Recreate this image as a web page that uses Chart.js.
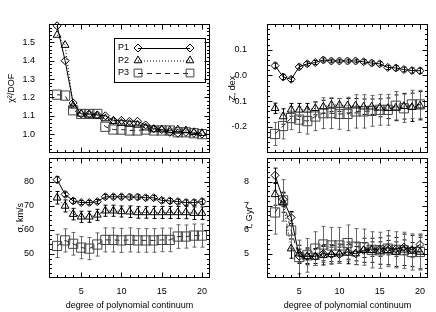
<!DOCTYPE html>
<html>
<head>
<meta charset="utf-8">
<script src="https://cdn.jsdelivr.net/npm/chart.js@4"></script>
<style>
body { margin: 0; background: #fff; width: 436px; height: 312px; position: relative; overflow: hidden; }
canvas { position: absolute; }
</style>
</head>
<body>
<canvas id="chiChart" style="left:0;top:0" width="218" height="160"></canvas>
<canvas id="zChart" style="left:218px;top:0" width="218" height="160"></canvas>
<canvas id="sigChart" style="left:0;top:150px" width="218" height="162"></canvas>
<canvas id="ageChart" style="left:218px;top:150px" width="218" height="162"></canvas>
<script>
// polynomial degree on x
const degrees = [2, 3, 4, 5, 6, 7, 8, 9, 10, 11, 12, 13, 14, 15, 16, 17, 18, 19, 20];
const xTicks = [5, 10, 15, 20];

// chi^2 / DOF
const chiP1 = [1.59, 1.40, 1.17, 1.11, 1.11, 1.105, 1.10, 1.075, 1.075, 1.07, 1.07, 1.05, 1.03, 1.025, 1.01, 1.005, 1.01, 1.005, 1.0];
const chiP2 = [1.54, 1.485, 1.155, 1.11, 1.105, 1.10, 1.085, 1.07, 1.06, 1.055, 1.05, 1.035, 1.025, 1.025, 1.02, 1.025, 1.02, 1.01, 1.005];
const chiP3 = [1.215, 1.21, 1.13, 1.11, 1.11, 1.11, 1.04, 1.025, 1.025, 1.02, 1.02, 1.025, 1.02, 1.02, 1.02, 1.01, 1.01, 1.005, 1.0];
const chiTicks = [1.0, 1.1, 1.2, 1.3, 1.4, 1.5];

// metallicity Z, dex
const zP1 = [0.038, -0.006, -0.015, 0.033, 0.045, 0.05, 0.06, 0.056, 0.056, 0.056, 0.056, 0.053, 0.048, 0.045, 0.031, 0.029, 0.023, 0.019, 0.018];
const zErrP1 = [0.010, 0.010, 0.009, 0.008, 0.008, 0.008, 0.008, 0.007, 0.007, 0.007, 0.007, 0.008, 0.008, 0.008, 0.008, 0.009, 0.009, 0.010, 0.010];
const zP2 = [-0.128, -0.16, -0.134, -0.134, -0.134, -0.128, -0.122, -0.115, -0.115, -0.118, -0.118, -0.122, -0.122, -0.126, -0.128, -0.126, -0.12, -0.124, -0.118];
const zErrP2 = [0.02, 0.03, 0.025, 0.025, 0.025, 0.025, 0.025, 0.025, 0.025, 0.028, 0.028, 0.03, 0.03, 0.035, 0.04, 0.05, 0.05, 0.055, 0.055];
const zP3 = [-0.228, -0.197, -0.166, -0.172, -0.178, -0.16, -0.147, -0.147, -0.15, -0.15, -0.14, -0.14, -0.138, -0.134, -0.134, -0.118, -0.128, -0.113, -0.113];
const zErrP3 = [0.045, 0.05, 0.045, 0.05, 0.05, 0.055, 0.06, 0.06, 0.06, 0.065, 0.065, 0.065, 0.06, 0.06, 0.06, 0.055, 0.055, 0.055, 0.055];
const zTicks = [-0.2, -0.1, 0.0, 0.1];

// velocity dispersion, km/s
const sigP1 = [80.8, 74.7, 72.0, 71.3, 71.3, 71.7, 73.7, 73.7, 73.7, 73.6, 73.6, 73.3, 73.3, 72.2, 72.0, 71.7, 71.3, 71.3, 71.7];
const sigErrP1 = [1.2, 1.0, 1.0, 0.9, 0.9, 0.9, 0.9, 0.9, 0.9, 0.9, 0.9, 0.9, 0.9, 1.0, 1.0, 1.0, 1.1, 1.1, 1.1];
const sigP2 = [73.3, 69.9, 66.5, 65.4, 65.4, 66.2, 67.9, 67.9, 67.6, 67.5, 67.2, 67.2, 67.2, 67.2, 67.2, 67.2, 67.2, 66.9, 66.9];
const sigErrP2 = [2.6, 2.5, 2.4, 2.3, 2.3, 2.3, 2.3, 2.3, 2.3, 2.4, 2.4, 2.4, 2.5, 2.5, 2.5, 2.5, 2.6, 2.6, 2.6];
const sigP3 = [53.3, 55.6, 54.2, 52.6, 52.2, 53.9, 55.8, 55.8, 55.6, 55.8, 55.6, 55.6, 55.6, 55.8, 55.8, 57.2, 57.2, 57.6, 57.6];
const sigErrP3 = [4.8, 4.8, 4.7, 4.6, 4.6, 4.8, 5.0, 5.0, 5.0, 5.0, 4.9, 4.9, 4.9, 4.9, 4.9, 4.9, 4.8, 4.8, 4.8];
const sigTicks = [50, 60, 70, 80];

// age t, Gyr
const ageP1 = [8.26, 7.26, 6.51, 4.90, 4.90, 4.90, 5.01, 4.98, 4.98, 5.08, 5.01, 5.15, 5.2, 5.2, 5.26, 5.2, 5.28, 5.17, 5.39];
const ageErrP1 = [0.3, 0.3, 0.25, 0.3, 0.3, 0.3, 0.3, 0.3, 0.3, 0.3, 0.3, 0.3, 0.3, 0.3, 0.3, 0.3, 0.3, 0.3, 0.3];
const ageP2 = [7.47, 7.13, 5.22, 5.01, 4.9, 4.87, 4.94, 4.98, 5.01, 5.04, 5.01, 5.15, 5.15, 5.12, 5.15, 5.08, 5.17, 5.12, 5.08];
const ageErrP2 = [0.45, 0.4, 0.4, 0.35, 0.35, 0.35, 0.4, 0.4, 0.4, 0.45, 0.45, 0.5, 0.5, 0.55, 0.6, 0.6, 0.65, 0.65, 0.7];
const ageP3 = [6.72, 7.22, 5.97, 4.87, 4.94, 5.22, 5.39, 5.35, 5.35, 5.45, 5.3, 5.28, 5.17, 5.15, 5.22, 5.17, 5.15, 5.08, 5.08];
const ageErrP3 = [0.9, 0.86, 0.75, 0.7, 0.7, 0.7, 0.75, 0.75, 0.75, 0.75, 0.75, 0.75, 0.75, 0.75, 0.75, 0.75, 0.75, 0.75, 0.75];
const ageTicks = [5, 6, 7, 8];

Chart.defaults.font.family = "'Liberation Sans', Arial, sans-serif";
Chart.defaults.font.size = 9;
Chart.defaults.color = "#000";

// vertical error bars, drawn under the markers
const errorBars = {
    id: "errorBars",
    beforeDatasetsDraw(chart) {
        const { ctx, scales: { x, y } } = chart;
        chart.data.datasets.forEach(ds => {
            if (!ds.errors) return;
            ctx.save();
            ctx.strokeStyle = ds.errorColor;
            ctx.lineWidth = 1;
            ds.data.forEach((p, j) => {
                const px = Math.round(x.getPixelForValue(p.x)) + 0.5;
                const y1 = y.getPixelForValue(p.y + ds.errors[j]);
                const y2 = y.getPixelForValue(p.y - ds.errors[j]);
                ctx.beginPath();
                ctx.moveTo(px, y1); ctx.lineTo(px, y2);
                ctx.moveTo(px - 2, y1); ctx.lineTo(px + 2, y1);
                ctx.moveTo(px - 2, y2); ctx.lineTo(px + 2, y2);
                ctx.stroke();
            });
            ctx.restore();
        });
    }
};

// box with inward ticks on all four sides
const frameTicks = {
    id: "frameTicks",
    afterDatasetsDraw(chart, args, o) {
        const { ctx, chartArea: a, scales: { x, y } } = chart;
        const l = Math.round(a.left) + 0.5, r = Math.round(a.right) - 0.5;
        const t = Math.round(a.top) + 0.5, b = Math.round(a.bottom) - 0.5;
        ctx.save();
        ctx.strokeStyle = "#000";
        ctx.lineWidth = 1;
        ctx.strokeRect(l, t, r - l, b - t);
        ctx.beginPath();
        const isMajor = (v, m) => Math.abs(v / m - Math.round(v / m)) < 1e-6;
        let n = Math.round((x.max - x.min) / o.xMinor);
        for (let i = 1; i < n; i++) {
            const v = x.min + i * o.xMinor;
            const px = Math.round(x.getPixelForValue(v)) + 0.5;
            const len = isMajor(v, o.xMajor) ? 5 : 2.5;
            ctx.moveTo(px, b); ctx.lineTo(px, b - len);
            ctx.moveTo(px, t); ctx.lineTo(px, t + len);
        }
        n = Math.round((y.max - y.min) / o.yMinor);
        for (let i = 1; i < n; i++) {
            const v = y.min + i * o.yMinor;
            const py = Math.round(y.getPixelForValue(v)) + 0.5;
            const len = isMajor(v, o.yMajor) ? 5 : 2.5;
            ctx.moveTo(l, py); ctx.lineTo(l + len, py);
            ctx.moveTo(r, py); ctx.lineTo(r - len, py);
        }
        ctx.stroke();
        ctx.restore();
    }
};

// legend box: label, marker, line, marker
const lineLegend = {
    id: "lineLegend",
    afterDraw(chart, args, o) {
        if (!o.show) return;
        const { ctx } = chart;
        ctx.save();
        ctx.strokeStyle = "#000";
        ctx.lineWidth = 1;
        ctx.strokeRect(114.5, 38.5, 91, 44);
        ctx.font = "9px 'Liberation Sans', Arial, sans-serif";
        ctx.textBaseline = "middle";
        const rows = [48, 60.5, 73];
        chart.data.datasets.forEach((ds, i) => {
            const yy = rows[i];
            ctx.fillStyle = "#000";
            ctx.fillText(ds.label, 118, yy);
            ctx.strokeStyle = ds.borderColor;
            ctx.setLineDash(ds.borderDash || []);
            ctx.beginPath();
            ctx.moveTo(138, yy + 0.5); ctx.lineTo(190, yy + 0.5);
            ctx.stroke();
            ctx.setLineDash([]);
            ctx.strokeStyle = ds.pointBorderColor;
            ctx.fillStyle = "rgba(0,0,0,0)";
            const rad = ds.pointStyle === "rect" ? 5.5 : ds.pointRadius;
            [138, 190].forEach(px => {
                Chart.helpers.drawPoint(ctx, { pointStyle: ds.pointStyle, radius: rad, rotation: 0, borderWidth: 1 }, px, yy);
            });
        });
        ctx.restore();
    }
};

function series(label, values, style, errors) {
    const looks = {
        P1: { borderColor: "#000", borderDash: [], pointStyle: "rectRot", pointRadius: 4, errorColor: "#000" },
        P2: { borderColor: "#000", borderDash: [1, 2], pointStyle: "triangle", pointRadius: 4.5, errorColor: "#000" },
        P3: { borderColor: "#222", borderDash: [5, 4], pointStyle: "rect", pointRadius: 6.5, errorColor: "#666" }
    }[style];
    return {
        label: label,
        data: degrees.map((d, i) => ({ x: d, y: values[i] })),
        borderColor: looks.borderColor,
        borderWidth: 1,
        borderDash: looks.borderDash,
        pointStyle: looks.pointStyle,
        pointRadius: looks.pointRadius,
        pointBorderColor: style === "P3" ? "#444" : "#000",
        pointBackgroundColor: "rgba(0,0,0,0)",
        pointBorderWidth: 1,
        tension: 0,
        fill: false,
        clip: false,
        errors: errors,
        errorColor: looks.errorColor
    };
}

function panel(id, p) {
    return new Chart(document.getElementById(id), {
        type: "line",
        data: { datasets: p.datasets },
        options: {
            responsive: false,
            animation: false,
            layout: { padding: { top: p.top, bottom: p.bottom, left: 0, right: 8 } },
            plugins: {
                legend: { display: false },
                tooltip: { enabled: false },
                frameTicks: { xMinor: 1, xMajor: 5, yMinor: p.yMinor, yMajor: p.yMajor },
                lineLegend: { show: !!p.legend }
            },
            scales: {
                x: {
                    type: "linear", min: 1, max: 21,
                    display: p.showX,
                    grid: { display: false },
                    border: { display: false },
                    afterBuildTicks: s => { s.ticks = xTicks.map(v => ({ value: v })); },
                    afterFit: s => {
                        s.height = p.showX ? 34 : 0;
                        s.paddingLeft = 0; s.paddingRight = 0;
                    },
                    ticks: { padding: 0, maxRotation: 0, autoSkip: false },
                    title: { display: true, text: "degree of polynomial continuum", padding: { top: 0, bottom: 1 } }
                },
                y: {
                    type: "linear", min: p.yMin, max: p.yMax,
                    grid: { display: false },
                    border: { display: false },
                    afterBuildTicks: s => { s.ticks = p.yTicks.map(v => ({ value: v })); },
                    afterFit: s => {
                        s.width = 49;
                        s.paddingTop = 0; s.paddingBottom = 0;
                    },
                    ticks: { padding: p.labelPad, autoSkip: false, callback: v => v.toFixed(p.dec) },
                    title: { display: true, text: p.title, padding: { top: p.titlePad, bottom: 0 } }
                }
            }
        },
        plugins: [errorBars, frameTicks, lineLegend]
    });
}

panel("chiChart", {
    datasets: [series("P1", chiP1, "P1"), series("P2", chiP2, "P2"), series("P3", chiP3, "P3")],
    top: 24, bottom: 4, showX: false, legend: true,
    yMin: 0.9, yMax: 1.6, yTicks: chiTicks, yMinor: 0.02, yMajor: 0.1, dec: 1,
    labelPad: 6, title: "χ²/DOF", titlePad: 6
});

panel("zChart", {
    datasets: [series("P1", zP1, "P1", zErrP1), series("P2", zP2, "P2", zErrP2), series("P3", zP3, "P3", zErrP3)],
    top: 24, bottom: 4, showX: false,
    yMin: -0.3, yMax: 0.2, yTicks: zTicks, yMinor: 0.02, yMajor: 0.1, dec: 1,
    labelPad: 12, title: "Z, dex", titlePad: 9
});

panel("sigChart", {
    datasets: [series("P1", sigP1, "P1", sigErrP1), series("P2", sigP2, "P2", sigErrP2), series("P3", sigP3, "P3", sigErrP3)],
    top: 6, bottom: 0, showX: true,
    yMin: 40, yMax: 90, yTicks: sigTicks, yMinor: 2, yMajor: 10, dec: 0,
    labelPad: 7, title: "σ, km/s", titlePad: 15
});

panel("ageChart", {
    datasets: [series("P1", ageP1, "P1", ageErrP1), series("P2", ageP2, "P2", ageErrP2), series("P3", ageP3, "P3", ageErrP3)],
    top: 6, bottom: 0, showX: true,
    yMin: 4, yMax: 9, yTicks: ageTicks, yMinor: 0.2, yMajor: 1, dec: 0,
    labelPad: 10, title: "t, Gyr", titlePad: 26
});
</script>
</body>
</html>
